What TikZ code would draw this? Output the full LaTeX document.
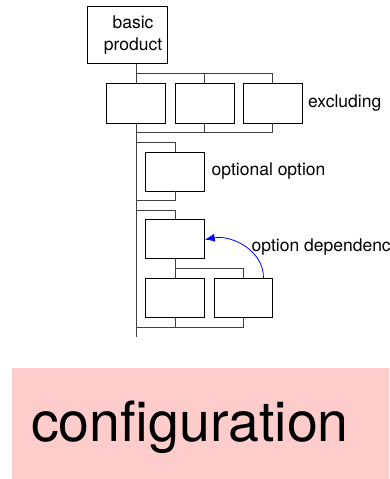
\documentclass[tikz,border=0pt]{standalone}
\usepackage{fontspec}
\setmainfont{TeX Gyre Heros}
\usetikzlibrary{arrows.meta}
\tikzset{
  box/.style={draw=black, line width=0.9pt, fill=white, minimum width=58.6pt, minimum height=39pt, inner sep=0pt},
  conn/.style={draw=black!75, line width=0.9pt},
  lbl/.style={anchor=west, inner sep=0pt, font=\fontsize{17.5}{21}\selectfont},
  dep/.style={draw=blue, line width=0.8pt, -{Latex[length=10pt,width=8pt]}}
}
\begin{document}
\begin{tikzpicture}[x=1pt,y=-1pt]
\useasboundingbox (0,0) rectangle (389,479);
\clip (0,0) rectangle (389,479);
% main spine
\coordinate (mtop) at (136,63);
\coordinate (mbot) at (136,337);
\draw[conn] (mtop) -- (mbot);
% row 1 (excluding)
\coordinate (r1t) at (136,73);
\coordinate (r1b) at (136,132);
\node[box, minimum width=59pt, minimum height=40pt] (ra) at (135.5,103) {};
\node[box, minimum width=59pt, minimum height=40pt] (rb) at (204.5,103) {};
\node[box, minimum width=59pt, minimum height=40pt] (rc) at (272.5,103) {};
\draw[conn] (r1t) -| (rc.north);
\draw[conn] (rb.north) |- (r1t);
\draw[conn] (r1b) -| (rc.south);
\draw[conn] (rb.south) |- (r1b);
% row 2 (optional)
\node[box] (op) at (175,171.5) {};
\coordinate (r2t) at (136,142);
\coordinate (r2b) at (136,200);
\draw[conn] (r2t) -| (op.north);
\draw[conn] (r2b) -| (op.south);
% row 3 (dependence)
\node[box] (d) at (175,239) {};
\node[box] (e) at (175,297.7) {};
\node[box] (f) at (243.5,297.7) {};
\coordinate (r3t) at (136,210);
\coordinate (r3m) at (175,268.3);
\coordinate (r3b) at (136,327);
\draw[conn] (r3t) -| (d.north);
\draw[conn] (d.south) -- (e.north);
\draw[conn] (r3m) -| (f.north);
\draw[conn] (r3b) -| (f.south);
\draw[conn] (e.south) -- (e.south |- r3b);
% redraw first box on top of spine
\node[box, minimum width=59pt, minimum height=40pt] at (ra) {};
% top box
\node[draw=black, line width=0.9pt, fill=white, minimum width=80pt, minimum height=57pt, inner sep=0pt] (bp) at (127,34.5) {};
\node[align=center, inner sep=0pt, font=\fontsize{17.5}{22}\selectfont] (bpt) at (133,35) {basic\\product};
% labels
\node[lbl] (lx) at (308,103.5) {excluding};
\node[lbl] (lo) at (211.5,171.5) {optional option};
\node[lbl] (ld) at (251.5,247) {option dependence};
% dependence arrow
\draw[dep] ([xshift=20pt]f.north) to[out=90,in=10] ([yshift=-0.5pt]d.east);
% configuration
\node[fill=red!20, anchor=north west, minimum width=400pt, minimum height=115pt, inner sep=0pt] (cfgbg) at (12,368) {};
\node[anchor=base west, inner sep=0pt, font=\fontsize{55.5}{60}\selectfont] (cfg) at (31,441.7) {configuration};
\end{tikzpicture}
\end{document}
